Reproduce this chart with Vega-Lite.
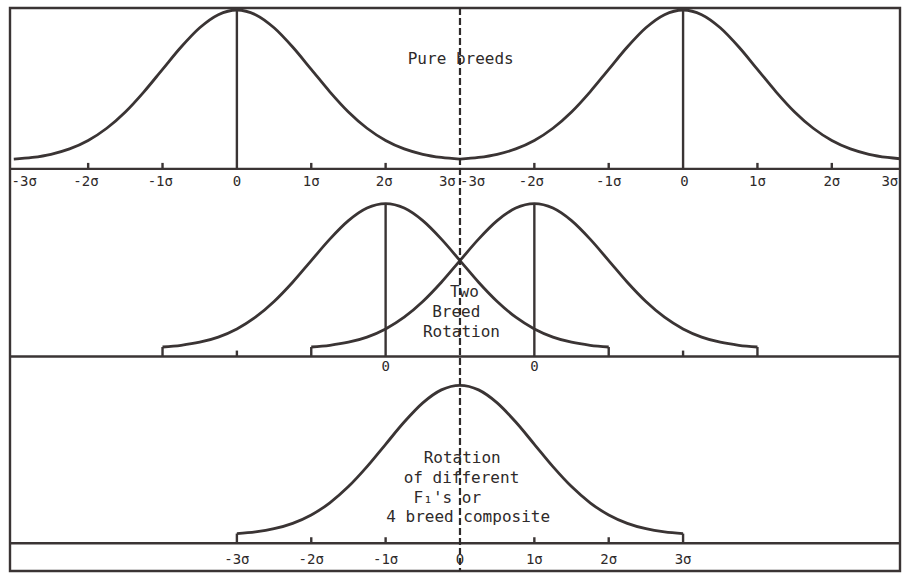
{
  "$schema": "https://vega.github.io/schema/vega-lite/v6.json",
  "width": 903,
  "height": 578,
  "autosize": {"type": "fit", "contains": "padding"},
  "padding": {"left": 8, "top": 6, "right": 1, "bottom": 5},
  "background": "#ffffff",
  "config": {"view": {"stroke": "#3a3434", "strokeWidth": 2.4}},
  "datasets": {
    "curves": [
      {"c": "pure_a", "x": -6, "y": 414.7}, {"c": "pure_a", "x": -5.75, "y": 416.5}, {"c": "pure_a", "x": -5.5, "y": 419.7}, {"c": "pure_a", "x": -5.25, "y": 425.1}, {"c": "pure_a", "x": -5, "y": 433.6}, {"c": "pure_a", "x": -4.75, "y": 445.9}, {"c": "pure_a", "x": -4.5, "y": 462.3}, {"c": "pure_a", "x": -4.25, "y": 482.6}, {"c": "pure_a", "x": -4, "y": 505.2}, {"c": "pure_a", "x": -3.75, "y": 527.7}, {"c": "pure_a", "x": -3.5, "y": 547.1}, {"c": "pure_a", "x": -3.25, "y": 560.3}, {"c": "pure_a", "x": -3, "y": 565}, {"c": "pure_a", "x": -2.75, "y": 560.3}, {"c": "pure_a", "x": -2.5, "y": 547.1}, {"c": "pure_a", "x": -2.25, "y": 527.7}, {"c": "pure_a", "x": -2, "y": 505.2}, {"c": "pure_a", "x": -1.75, "y": 482.6}, {"c": "pure_a", "x": -1.5, "y": 462.3}, {"c": "pure_a", "x": -1.25, "y": 445.9}, {"c": "pure_a", "x": -1, "y": 433.6}, {"c": "pure_a", "x": -0.75, "y": 425.1}, {"c": "pure_a", "x": -0.5, "y": 419.7}, {"c": "pure_a", "x": -0.25, "y": 416.5}, {"c": "pure_a", "x": 0, "y": 414.7},
      {"c": "pure_b", "x": 0, "y": 414.7}, {"c": "pure_b", "x": 0.25, "y": 416.5}, {"c": "pure_b", "x": 0.5, "y": 419.7}, {"c": "pure_b", "x": 0.75, "y": 425.1}, {"c": "pure_b", "x": 1, "y": 433.6}, {"c": "pure_b", "x": 1.25, "y": 445.9}, {"c": "pure_b", "x": 1.5, "y": 462.3}, {"c": "pure_b", "x": 1.75, "y": 482.6}, {"c": "pure_b", "x": 2, "y": 505.2}, {"c": "pure_b", "x": 2.25, "y": 527.7}, {"c": "pure_b", "x": 2.5, "y": 547.1}, {"c": "pure_b", "x": 2.75, "y": 560.3}, {"c": "pure_b", "x": 3, "y": 565}, {"c": "pure_b", "x": 3.25, "y": 560.3}, {"c": "pure_b", "x": 3.5, "y": 547.1}, {"c": "pure_b", "x": 3.75, "y": 527.7}, {"c": "pure_b", "x": 4, "y": 505.2}, {"c": "pure_b", "x": 4.25, "y": 482.6}, {"c": "pure_b", "x": 4.5, "y": 462.3}, {"c": "pure_b", "x": 4.75, "y": 445.9}, {"c": "pure_b", "x": 5, "y": 433.6}, {"c": "pure_b", "x": 5.25, "y": 425.1}, {"c": "pure_b", "x": 5.5, "y": 419.7}, {"c": "pure_b", "x": 5.75, "y": 416.5}, {"c": "pure_b", "x": 6, "y": 414.7},
      {"c": "rot_a", "x": -4, "y": 225.6}, {"c": "rot_a", "x": -3.75, "y": 227.3}, {"c": "rot_a", "x": -3.5, "y": 230.4}, {"c": "rot_a", "x": -3.25, "y": 235.6}, {"c": "rot_a", "x": -3, "y": 243.8}, {"c": "rot_a", "x": -2.75, "y": 255.6}, {"c": "rot_a", "x": -2.5, "y": 271.4}, {"c": "rot_a", "x": -2.25, "y": 290.8}, {"c": "rot_a", "x": -2, "y": 312.6}, {"c": "rot_a", "x": -1.75, "y": 334.2}, {"c": "rot_a", "x": -1.5, "y": 352.8}, {"c": "rot_a", "x": -1.25, "y": 365.5}, {"c": "rot_a", "x": -1, "y": 370}, {"c": "rot_a", "x": -0.75, "y": 365.5}, {"c": "rot_a", "x": -0.5, "y": 352.8}, {"c": "rot_a", "x": -0.25, "y": 334.2}, {"c": "rot_a", "x": 0, "y": 312.6}, {"c": "rot_a", "x": 0.25, "y": 290.8}, {"c": "rot_a", "x": 0.5, "y": 271.4}, {"c": "rot_a", "x": 0.75, "y": 255.6}, {"c": "rot_a", "x": 1, "y": 243.8}, {"c": "rot_a", "x": 1.25, "y": 235.6}, {"c": "rot_a", "x": 1.5, "y": 230.4}, {"c": "rot_a", "x": 1.75, "y": 227.3}, {"c": "rot_a", "x": 2, "y": 225.6},
      {"c": "rot_b", "x": -2, "y": 225.6}, {"c": "rot_b", "x": -1.75, "y": 227.3}, {"c": "rot_b", "x": -1.5, "y": 230.4}, {"c": "rot_b", "x": -1.25, "y": 235.6}, {"c": "rot_b", "x": -1, "y": 243.8}, {"c": "rot_b", "x": -0.75, "y": 255.6}, {"c": "rot_b", "x": -0.5, "y": 271.4}, {"c": "rot_b", "x": -0.25, "y": 290.8}, {"c": "rot_b", "x": 0, "y": 312.6}, {"c": "rot_b", "x": 0.25, "y": 334.2}, {"c": "rot_b", "x": 0.5, "y": 352.8}, {"c": "rot_b", "x": 0.75, "y": 365.5}, {"c": "rot_b", "x": 1, "y": 370}, {"c": "rot_b", "x": 1.25, "y": 365.5}, {"c": "rot_b", "x": 1.5, "y": 352.8}, {"c": "rot_b", "x": 1.75, "y": 334.2}, {"c": "rot_b", "x": 2, "y": 312.6}, {"c": "rot_b", "x": 2.25, "y": 290.8}, {"c": "rot_b", "x": 2.5, "y": 271.4}, {"c": "rot_b", "x": 2.75, "y": 255.6}, {"c": "rot_b", "x": 3, "y": 243.8}, {"c": "rot_b", "x": 3.25, "y": 235.6}, {"c": "rot_b", "x": 3.5, "y": 230.4}, {"c": "rot_b", "x": 3.75, "y": 227.3}, {"c": "rot_b", "x": 4, "y": 225.6},
      {"c": "comp", "x": -3, "y": 37.7}, {"c": "comp", "x": -2.75, "y": 39.4}, {"c": "comp", "x": -2.5, "y": 42.6}, {"c": "comp", "x": -2.25, "y": 48.0}, {"c": "comp", "x": -2, "y": 56.4}, {"c": "comp", "x": -1.75, "y": 68.7}, {"c": "comp", "x": -1.5, "y": 85.0}, {"c": "comp", "x": -1.25, "y": 105.1}, {"c": "comp", "x": -1, "y": 127.6}, {"c": "comp", "x": -0.75, "y": 150.0}, {"c": "comp", "x": -0.5, "y": 169.3}, {"c": "comp", "x": -0.25, "y": 182.4}, {"c": "comp", "x": 0, "y": 187}, {"c": "comp", "x": 0.25, "y": 182.4}, {"c": "comp", "x": 0.5, "y": 169.3}, {"c": "comp", "x": 0.75, "y": 150.0}, {"c": "comp", "x": 1, "y": 127.6}, {"c": "comp", "x": 1.25, "y": 105.1}, {"c": "comp", "x": 1.5, "y": 85.0}, {"c": "comp", "x": 1.75, "y": 68.7}, {"c": "comp", "x": 2, "y": 56.4}, {"c": "comp", "x": 2.25, "y": 48.0}, {"c": "comp", "x": 2.5, "y": 42.6}, {"c": "comp", "x": 2.75, "y": 39.4}, {"c": "comp", "x": 3, "y": 37.7}
    ],
    "baselines": [{"y": 405}, {"y": 216}, {"y": 28}],
    "segments": [
      {"x": -3, "y": 405, "y2": 565}, {"x": 3, "y": 405, "y2": 565},
      {"x": -1, "y": 216, "y2": 370}, {"x": 1, "y": 216, "y2": 370},
      {"x": -5, "y": 405, "y2": 411}, {"x": -4, "y": 405, "y2": 411}, {"x": -2, "y": 405, "y2": 411}, {"x": -1, "y": 405, "y2": 411},
      {"x": 1, "y": 405, "y2": 411}, {"x": 2, "y": 405, "y2": 411}, {"x": 4, "y": 405, "y2": 411}, {"x": 5, "y": 405, "y2": 411},
      {"x": -4, "y": 216, "y2": 225.6}, {"x": -2, "y": 216, "y2": 225.6}, {"x": 2, "y": 216, "y2": 225.6}, {"x": 4, "y": 216, "y2": 225.6},
      {"x": -3, "y": 216, "y2": 222}, {"x": 3, "y": 216, "y2": 222},
      {"x": -3, "y": 28, "y2": 37.7}, {"x": 3, "y": 28, "y2": 37.7},
      {"x": -2, "y": 28, "y2": 34}, {"x": -1, "y": 28, "y2": 34}, {"x": 1, "y": 28, "y2": 34}, {"x": 2, "y": 28, "y2": 34}
    ],
    "divider": [{"x": 0}],
    "ticklabels": [
      {"x": -5.86, "y": 392, "t": "-3σ"}, {"x": -5.03, "y": 392, "t": "-2σ"}, {"x": -4.03, "y": 392, "t": "-1σ"}, {"x": -3.0, "y": 392, "t": "0"},
      {"x": -2.0, "y": 392, "t": "1σ"}, {"x": -1.02, "y": 392, "t": "2σ"}, {"x": -0.17, "y": 392, "t": "3σ"},
      {"x": 0.17, "y": 392, "t": "-3σ"}, {"x": 0.96, "y": 392, "t": "-2σ"}, {"x": 2.0, "y": 392, "t": "-1σ"}, {"x": 3.02, "y": 392, "t": "0"},
      {"x": 4.0, "y": 392, "t": "1σ"}, {"x": 5.0, "y": 392, "t": "2σ"}, {"x": 5.78, "y": 392, "t": "3σ"},
      {"x": -1.0, "y": 205, "t": "0"}, {"x": 1.0, "y": 205, "t": "0"},
      {"x": -3, "y": 11, "t": "-3σ"}, {"x": -2, "y": 11, "t": "-2σ"}, {"x": -1, "y": 11, "t": "-1σ"}, {"x": 0, "y": 11, "t": "0"},
      {"x": 1, "y": 11, "t": "1σ"}, {"x": 2, "y": 11, "t": "2σ"}, {"x": 3, "y": 11, "t": "3σ"}
    ],
    "notes": [
      {"x": 0.01, "y": 516, "t": "Pure breeds"},
      {"x": 0.06, "y": 281, "t": "Two"},
      {"x": -0.05, "y": 261, "t": "Breed"},
      {"x": 0.02, "y": 241, "t": "Rotation"},
      {"x": 0.03, "y": 114, "t": "Rotation"},
      {"x": 0.02, "y": 94, "t": "of different"},
      {"x": -0.17, "y": 74, "t": "F₁'s or"},
      {"x": 0.11, "y": 54, "t": "4 breed composite"}
    ]
  },
  "encoding": {
    "x": {"field": "x", "type": "quantitative", "scale": {"domain": [-6.051, 5.917], "nice": false, "zero": false}, "axis": null},
    "y": {"field": "y", "type": "quantitative", "scale": {"domain": [0, 567], "nice": false, "zero": false}, "axis": null}
  },
  "layer": [
    {
      "data": {"name": "baselines"},
      "mark": {"type": "rule", "color": "#3a3434", "strokeWidth": 2.4},
      "encoding": {"x": null}
    },
    {
      "data": {"name": "curves"},
      "mark": {"type": "line", "color": "#3a3434", "strokeWidth": 2.8, "interpolate": "monotone", "clip": true},
      "encoding": {"detail": {"field": "c"}}
    },
    {
      "data": {"name": "segments"},
      "mark": {"type": "rule", "color": "#3a3434", "strokeWidth": 2.4},
      "encoding": {"y2": {"field": "y2"}}
    },
    {
      "data": {"name": "divider"},
      "mark": {"type": "rule", "color": "#2e2a2a", "strokeWidth": 2.2, "strokeDash": [7, 3]},
      "encoding": {"y": null}
    },
    {
      "data": {"name": "ticklabels"},
      "mark": {"type": "text", "font": "DejaVu Sans Mono", "fontSize": 14, "color": "#2e2a2a", "baseline": "middle", "align": "center"},
      "encoding": {"text": {"field": "t"}}
    },
    {
      "data": {"name": "notes"},
      "mark": {"type": "text", "font": "DejaVu Sans Mono", "fontSize": 16, "color": "#2e2a2a", "baseline": "middle", "align": "center"},
      "encoding": {"text": {"field": "t"}}
    }
  ]
}
